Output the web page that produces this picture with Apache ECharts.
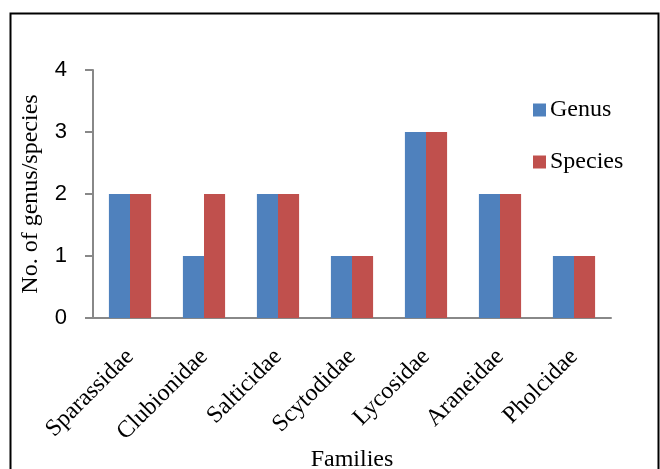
<!DOCTYPE html>
<html>
<head>
  <meta charset="UTF-8">
  <style>
    html, body { margin: 0; padding: 0; background: #fff; }
    #chart { width: 660px; height: 469px; }
  </style>
</head>
<body>
  <div id="chart"></div>
  <script src="https://cdn.jsdelivr.net/npm/echarts@6/dist/echarts.min.js"></script>
  <script>
    var families = ['Sparassidae', 'Clubionidae', 'Salticidae', 'Scytodidae', 'Lycosidae', 'Araneidae', 'Pholcidae']
    var genus = [2, 1, 2, 1, 3, 2, 1]
    var species = [2, 2, 2, 1, 3, 2, 1]

    var serif = '"Liberation Serif", "Times New Roman", serif'
    var axisGray = '#888888'

    var chart = echarts.init(document.getElementById('chart'))
    chart.setOption({
      animation: false,
      graphic: [{
        type: 'rect',
        left: 8, top: 11,
        shape: { width: 648, height: 480 },
        style: { fill: 'none', stroke: '#000', lineWidth: 2 }
      }],
      grid: { left: 93, right: 49, top: 70, bottom: 151, outerBoundsMode: 'none' },
      legend: {
        orient: 'vertical',
        left: 528, top: 93,
        itemWidth: 13, itemHeight: 13, itemGap: 28,
        icon: 'rect',
        textStyle: { fontFamily: serif, fontSize: 24, color: '#000', padding: [0, 0, 0, -1] },
        data: ['Genus', 'Species']
      },
      xAxis: {
        type: 'category',
        data: families,
        name: 'Families',
        nameLocation: 'middle',
        nameGap: 130,
        nameMoveOverlap: false,
        nameTextStyle: { fontFamily: serif, fontSize: 24, color: '#000' },
        axisLine: { lineStyle: { color: axisGray, width: 2 } },
        axisTick: { length: 7, lineStyle: { color: axisGray, width: 2 } },
        axisLabel: { rotate: 45, margin: 35, fontFamily: serif, fontSize: 24, color: '#000', interval: 0 }
      },
      yAxis: {
        type: 'value',
        min: 0, max: 4, interval: 1,
        name: 'No. of genus/species',
        nameLocation: 'middle',
        nameGap: 50,
        nameTextStyle: { fontFamily: serif, fontSize: 24, color: '#000' },
        axisLine: { show: true, lineStyle: { color: axisGray, width: 2 } },
        axisTick: { show: true, length: 8, lineStyle: { color: axisGray, width: 2 } },
        axisLabel: { margin: 26, fontFamily: '"Liberation Sans", Arial, sans-serif', fontSize: 22, color: '#000' },
        splitLine: { show: false }
      },
      series: [
        { name: 'Genus', type: 'bar', data: genus, barGap: '0%', barCategoryGap: '43%',
          itemStyle: { color: '#4F81BD' } },
        { name: 'Species', type: 'bar', data: species, barGap: '0%', barCategoryGap: '43%',
          itemStyle: { color: '#C0504D' } }
      ]
    })
  </script>
</body>
</html>
